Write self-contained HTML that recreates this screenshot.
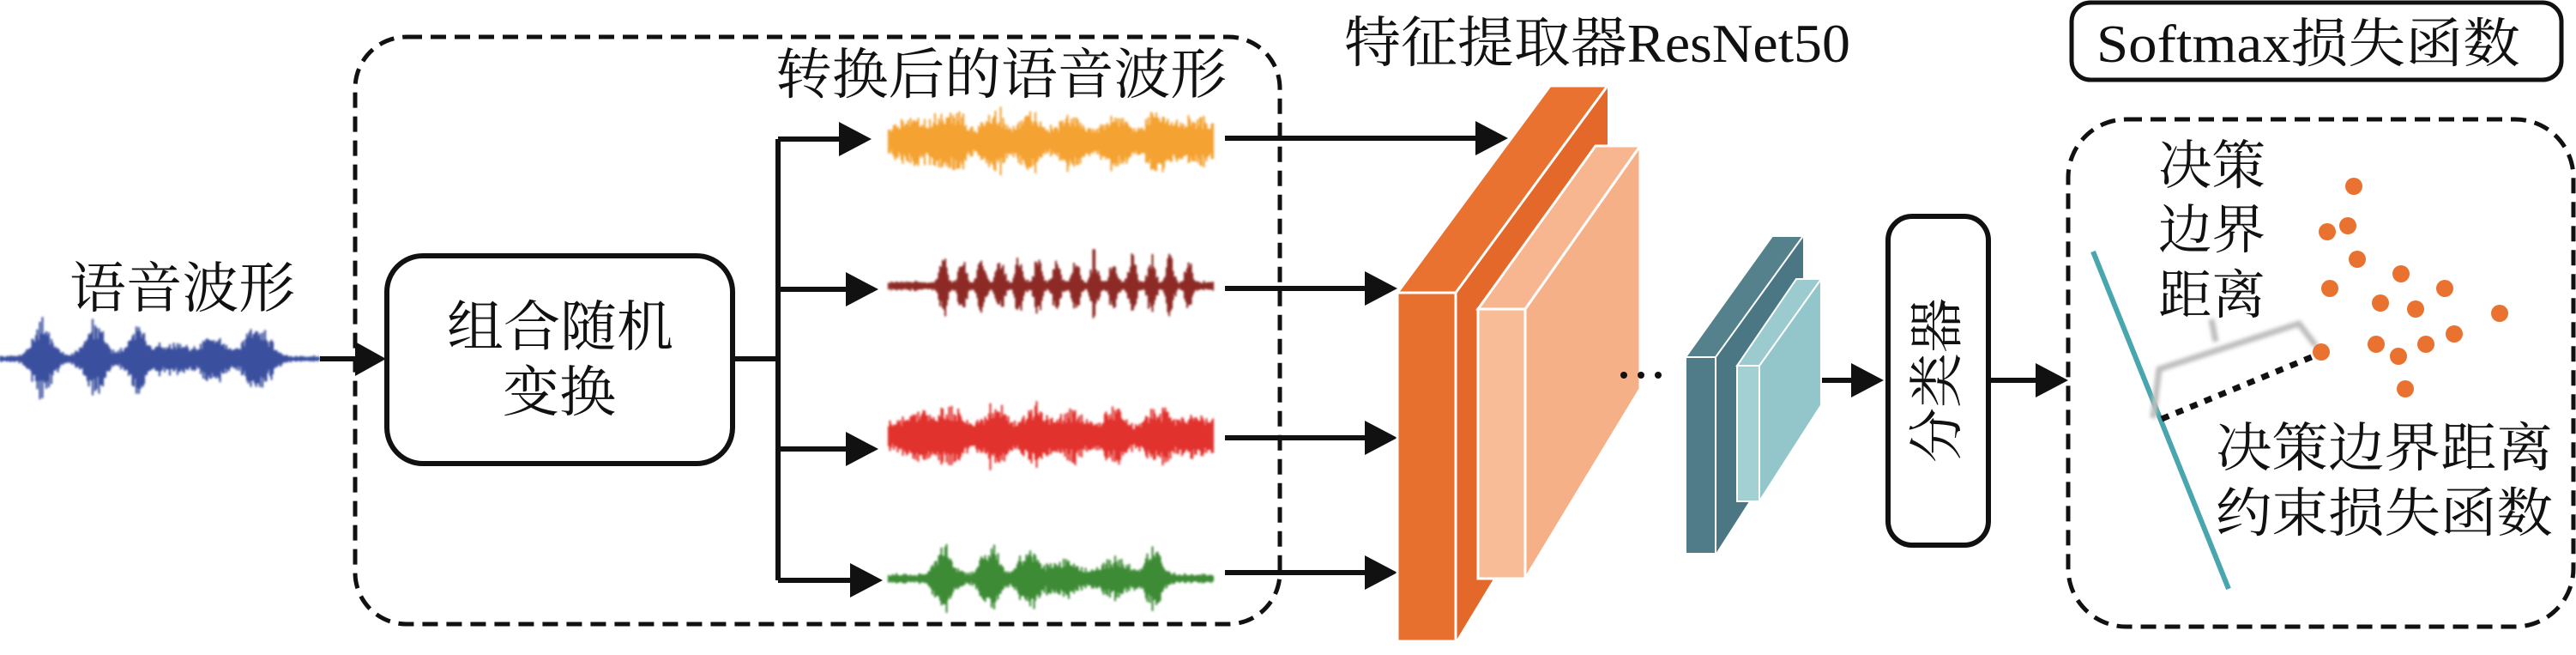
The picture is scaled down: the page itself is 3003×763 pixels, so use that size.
<!DOCTYPE html>
<html><head><meta charset="utf-8"><style>
html,body{margin:0;padding:0;background:#fff;}
svg{display:block}
text{font-family:"Liberation Serif","Noto Serif CJK SC",serif;fill:#111}
</style></head><body>
<svg id="s" width="3003" height="763" viewBox="0 0 3003 763" xmlns="http://www.w3.org/2000/svg">
<defs>
<filter id="bl"><feGaussianBlur stdDeviation="1.2"/></filter>
<filter id="bl2"><feGaussianBlur stdDeviation="2"/></filter>
</defs>
<g id="waves" filter="url(#bl)"></g>

<rect x="414" y="43" width="1078" height="684" rx="60" fill="none" stroke="#111" stroke-width="5" stroke-dasharray="18,10"/>
<text x="81" y="358" font-size="64" textLength="263" lengthAdjust="spacingAndGlyphs">语音波形</text>
<text x="904" y="109" font-size="64" textLength="526" lengthAdjust="spacingAndGlyphs">转换后的语音波形</text>

<g stroke="#111" stroke-width="6" fill="none">
<line x1="373" y1="418" x2="420" y2="418"/>
</g>
<path d="M414,398 L450,418 L414,438 z" fill="#111"/>
<rect x="451" y="298" width="403" height="242" rx="42" fill="#fff" stroke="#111" stroke-width="6"/>
<text x="521" y="403" font-size="64" textLength="264" lengthAdjust="spacingAndGlyphs">组合随机</text>
<text x="586" y="479" font-size="64" textLength="132" lengthAdjust="spacingAndGlyphs">变换</text>

<g stroke="#111" stroke-width="6" fill="none">
<line x1="854" y1="418" x2="910" y2="418"/>
<line x1="907" y1="162" x2="907" y2="676"/>
<line x1="907" y1="162" x2="985" y2="162"/>
<line x1="907" y1="337" x2="990" y2="337"/>
<line x1="907" y1="523" x2="990" y2="523"/>
<line x1="907" y1="676" x2="995" y2="676"/>
<line x1="1428" y1="161" x2="1725" y2="161"/>
<line x1="1428" y1="336" x2="1596" y2="336"/>
<line x1="1428" y1="510" x2="1596" y2="510"/>
<line x1="1428" y1="667" x2="1596" y2="667"/>
<line x1="2102" y1="443" x2="2165" y2="443"/>
<line x1="2318" y1="443" x2="2380" y2="443"/>
</g>
<g fill="#111">
<path d="M978,142 L1016,162 L978,182 z"/>
<path d="M986,317 L1024,337 L986,357 z"/>
<path d="M986,503 L1024,523 L986,543 z"/>
<path d="M991,656 L1029,676 L991,696 z"/>
<path d="M1720,141 L1758,161 L1720,181 z"/>
<path d="M1591,316 L1629,336 L1591,356 z"/>
<path d="M1591,490 L1629,510 L1591,530 z"/>
<path d="M1591,647 L1629,667 L1591,687 z"/>
<path d="M2158,423 L2196,443 L2158,463 z"/>
<path d="M2373,423 L2411,443 L2373,463 z"/>
</g>

<text x="1567" y="72" font-size="64" textLength="590" lengthAdjust="spacingAndGlyphs">特征提取器ResNet50</text>

<polygon points="1697,341 1874,100 1874,455 1697,747" fill="#e4682a"/>
<polygon points="1629,341 1697,341 1874,100 1807,100" fill="#ea7230" stroke="#fff" stroke-width="3"/>
<rect x="1629" y="341" width="68" height="406" fill="#e8702e" stroke="#fff" stroke-width="3"/>
<polygon points="1778,360 1912,170 1912,453 1778,674" fill="#f6b088" stroke="#fff" stroke-width="3"/>
<polygon points="1723,360 1778,360 1912,170 1860,170" fill="#f7b690" stroke="#fff" stroke-width="3"/>
<rect x="1723" y="360" width="55" height="314" fill="#f8bc96" stroke="#fff" stroke-width="3"/>
<g fill="#111"><circle cx="1893" cy="437" r="4"/><circle cx="1913" cy="437" r="4"/><circle cx="1933" cy="437" r="4"/></g>

<polygon points="2000,416 2102,275 2102,486 2000,645" fill="#4a7783"/>
<polygon points="1965,416 2000,416 2102,275 2066,275" fill="#55818c" stroke="#fff" stroke-width="2"/>
<rect x="1965" y="416" width="35" height="229" fill="#4f7c88" stroke="#fff" stroke-width="2"/>
<polygon points="2051,426 2123,325 2123,472 2051,584" fill="#92c6ca" stroke="#fff" stroke-width="2"/>
<polygon points="2025,426 2051,426 2123,325 2094,325" fill="#9ccbcf" stroke="#fff" stroke-width="2"/>
<rect x="2025" y="426" width="26" height="158" fill="#a3d0d3" stroke="#fff" stroke-width="2"/>

<rect x="2201" y="252" width="117" height="383" rx="28" fill="#fff" stroke="#111" stroke-width="6"/>
<text transform="translate(2280,443) rotate(-90)" x="-96" y="0" font-size="64" text-anchor="start" textLength="192" lengthAdjust="spacingAndGlyphs">分类器</text>

<rect x="2415" y="3" width="571" height="90" rx="22" fill="#fff" stroke="#111" stroke-width="5"/>
<text x="2444" y="72" font-size="62" textLength="494" lengthAdjust="spacingAndGlyphs">Softmax损失函数</text>

<rect x="2411" y="139" width="589" height="591" rx="68" fill="none" stroke="#111" stroke-width="5" stroke-dasharray="18,10"/>

<line x1="2440" y1="293" x2="2598" y2="686" stroke="#4aa6ae" stroke-width="6"/>
<g filter="url(#bl2)">
<polyline points="2510,487 2517,430 2680,377 2700,403" fill="none" stroke="#bdbdbd" stroke-width="7"/>
<line x1="2583" y1="398" x2="2578" y2="372" stroke="#bdbdbd" stroke-width="7"/>
</g>
<line x1="2520" y1="488" x2="2697" y2="415" stroke="#111" stroke-width="7" stroke-dasharray="9,9"/>
<g fill="#ea7230">
<circle cx="2744" cy="217" r="10"/><circle cx="2737" cy="263" r="10"/><circle cx="2713" cy="270" r="10"/>
<circle cx="2748" cy="302" r="10"/><circle cx="2799" cy="319" r="10"/><circle cx="2716" cy="336" r="10"/>
<circle cx="2850" cy="336" r="10"/><circle cx="2775" cy="353" r="10"/><circle cx="2816" cy="360" r="10"/>
<circle cx="2914" cy="365" r="10"/><circle cx="2861" cy="389" r="10"/><circle cx="2770" cy="401" r="10"/>
<circle cx="2828" cy="401" r="10"/><circle cx="2796" cy="415" r="10"/><circle cx="2706" cy="410" r="10"/>
<circle cx="2804" cy="453" r="10"/>
</g>
<text x="2516" y="214" font-size="62" textLength="125" lengthAdjust="spacingAndGlyphs">决策</text>
<text x="2516" y="289" font-size="62" textLength="125" lengthAdjust="spacingAndGlyphs">边界</text>
<text x="2516" y="365" font-size="62" textLength="125" lengthAdjust="spacingAndGlyphs">距离</text>
<text x="2583" y="543" font-size="62" textLength="393" lengthAdjust="spacingAndGlyphs">决策边界距离</text>
<text x="2583" y="619" font-size="62" textLength="393" lengthAdjust="spacingAndGlyphs">约束损失函数</text>
</svg>
<script>
(function(){
var seed=12345;function r(){seed=(seed*16807)%2147483647;return (seed-1)/2147483646;}
var g=document.getElementById('waves');
function wave(x0,x1,cy,amp,color,bursts,base){
  var d='';
  for(var x=x0;x<=x1;x+=1.5){
    var env=base;
    for(var i=0;i<bursts.length;i++){var b=bursts[i];var dx=(x-b[0])/b[1];env+=b[2]*Math.exp(-dx*dx);}
    if(env>1)env=1;
    var k=r()<0.05?1:0.5+0.4*r();
    var up=amp*env*k*(0.75+0.25*r()), dn=amp*env*k*(0.75+0.25*r());
    d+='M'+x.toFixed(1)+','+(cy-up).toFixed(1)+'V'+(cy+dn).toFixed(1);
  }
  var p=document.createElementNS('http://www.w3.org/2000/svg','path');
  p.setAttribute('d',d);p.setAttribute('stroke',color);p.setAttribute('stroke-width','2.2');p.setAttribute('fill','none');
  g.appendChild(p);
}
wave(0,373,418,50,'#3b4f9f',[[50,16,1],[110,16,0.9],[160,16,0.8],[200,30,0.4],[250,16,0.7],[300,20,0.85]],0.08);
wave(1036,1414,165,42,'#f4a233',[[1070,40,0.5],[1110,14,1],[1160,16,0.85],[1200,14,0.9],[1250,20,0.65],[1300,16,0.85],[1350,16,0.9],[1395,25,0.6]],0.3);
var br=[];for(var i=0;i<14;i++)br.push([1100+i*22,5,0.95]);
wave(1036,1414,333,44,'#8e2c27',br,0.15);
wave(1036,1414,508,42,'#e2322d',[[1070,30,0.55],[1110,14,1],[1160,16,0.85],[1205,16,0.9],[1250,20,0.65],[1300,16,0.75],[1350,16,0.9],[1395,25,0.55]],0.3);
wave(1036,1414,674,44,'#3c8b35',[[1100,14,0.85],[1155,14,1],[1200,14,0.9],[1240,22,0.55],[1300,22,0.55],[1345,12,0.9]],0.15);
})();
</script>
</body></html>
